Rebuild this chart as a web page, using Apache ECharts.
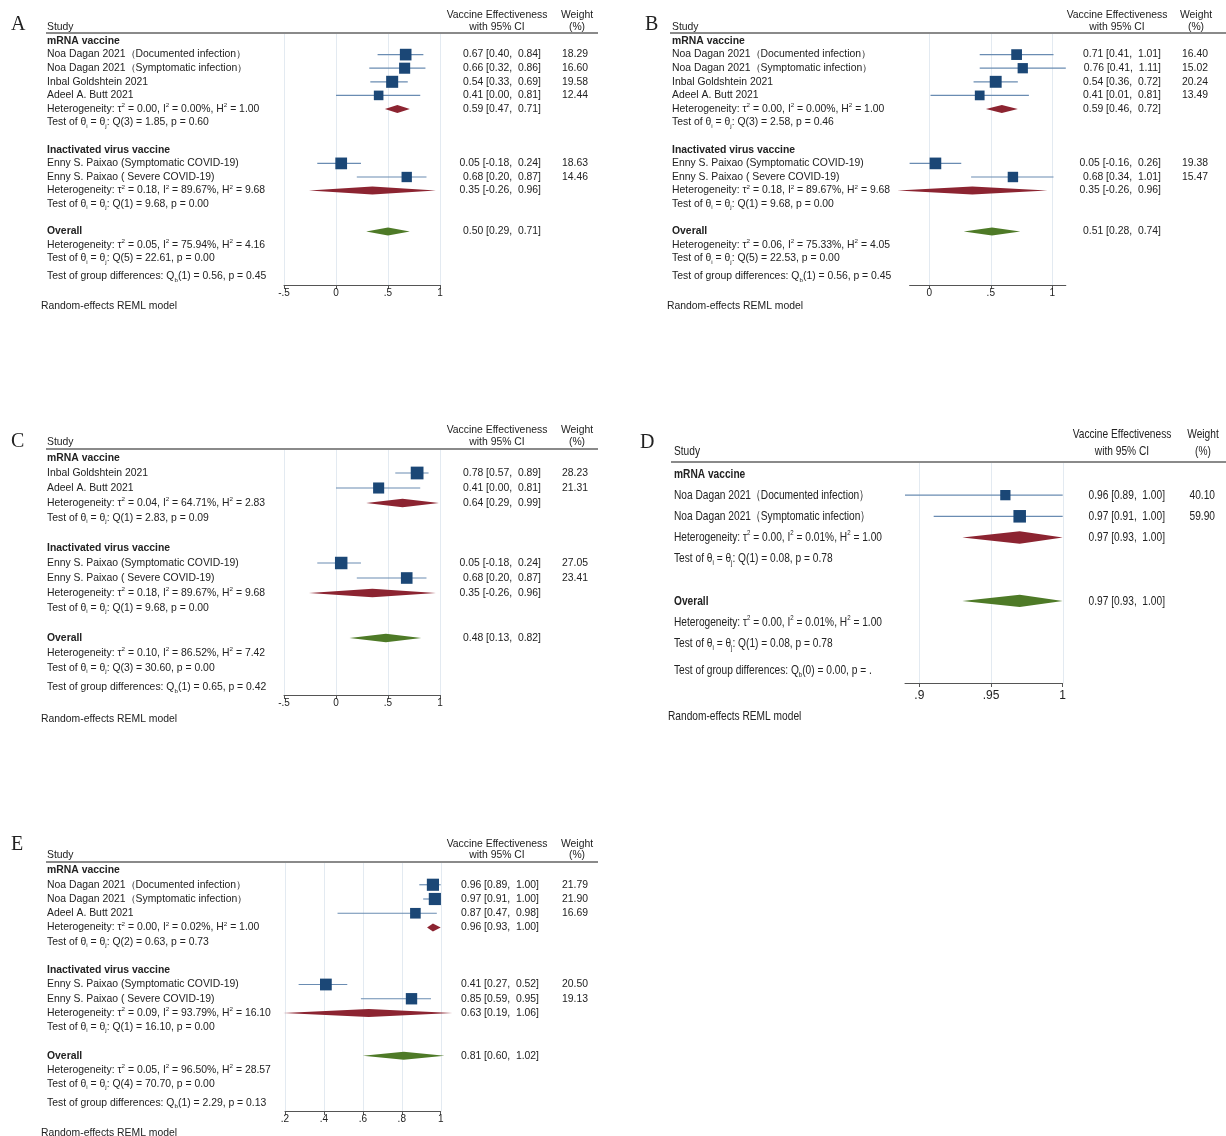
<!DOCTYPE html>
<html>
<head>
<meta charset="utf-8">
<script src="https://cdn.jsdelivr.net/npm/echarts@6/dist/echarts.min.js"></script>
<style>
  html, body { margin: 0; padding: 0; background: #fff; }
  #chart { width: 1226px; height: 1136px; }
</style>
</head>
<body>
<div id="chart"></div>
<script>
const GROUPS = ["mRNA vaccine", "Inactivated virus vaccine"];

// ---- panel A
const aNames = ["Noa Dagan 2021（Documented infection）", "Noa Dagan 2021（Symptomatic infection）", "Inbal Goldshtein 2021", "Adeel A. Butt 2021", "Enny S. Paixao (Symptomatic COVID-19)", "Enny S. Paixao ( Severe COVID-19)"];
const aGroup = [0, 0, 0, 0, 1, 1];
const aEst = [0.67, 0.66, 0.54, 0.41, 0.05, 0.68];
const aLow = [0.40, 0.32, 0.33, 0.00, -0.18, 0.20];
const aHigh = [0.84, 0.86, 0.69, 0.81, 0.24, 0.87];
const aWeight = [18.29, 16.60, 19.58, 12.44, 18.63, 14.46];
const aSub = [[0.59, 0.47, 0.71], [0.35, -0.26, 0.96]];
const aSubHet = [[0.00, 0.00, 1.00], [0.18, 89.67, 9.68]];
const aSubQ = [[3, 1.85, 0.60], [1, 9.68, 0.00]];
const aAll = [0.50, 0.29, 0.71];
const aAllHet = [0.05, 75.94, 4.16];
const aAllQ = [5, 22.61, 0.00];
const aQb = [1, 0.56, 0.45];
const aTicks = [-0.5, 0, 0.5, 1];

// ---- panel B
const bNames = aNames;
const bGroup = [0, 0, 0, 0, 1, 1];
const bEst = [0.71, 0.76, 0.54, 0.41, 0.05, 0.68];
const bLow = [0.41, 0.41, 0.36, 0.01, -0.16, 0.34];
const bHigh = [1.01, 1.11, 0.72, 0.81, 0.26, 1.01];
const bWeight = [16.40, 15.02, 20.24, 13.49, 19.38, 15.47];
const bSub = [[0.59, 0.46, 0.72], [0.35, -0.26, 0.96]];
const bSubHet = [[0.00, 0.00, 1.00], [0.18, 89.67, 9.68]];
const bSubQ = [[3, 2.58, 0.46], [1, 9.68, 0.00]];
const bAll = [0.51, 0.28, 0.74];
const bAllHet = [0.06, 75.33, 4.05];
const bAllQ = [5, 22.53, 0.00];
const bQb = [1, 0.56, 0.45];
const bTicks = [0, 0.5, 1];

// ---- panel C
const cNames = ["Inbal Goldshtein 2021", "Adeel A. Butt 2021", "Enny S. Paixao (Symptomatic COVID-19)", "Enny S. Paixao ( Severe COVID-19)"];
const cGroup = [0, 0, 1, 1];
const cEst = [0.78, 0.41, 0.05, 0.68];
const cLow = [0.57, 0.00, -0.18, 0.20];
const cHigh = [0.89, 0.81, 0.24, 0.87];
const cWeight = [28.23, 21.31, 27.05, 23.41];
const cSub = [[0.64, 0.29, 0.99], [0.35, -0.26, 0.96]];
const cSubHet = [[0.04, 64.71, 2.83], [0.18, 89.67, 9.68]];
const cSubQ = [[1, 2.83, 0.09], [1, 9.68, 0.00]];
const cAll = [0.48, 0.13, 0.82];
const cAllHet = [0.10, 86.52, 7.42];
const cAllQ = [3, 30.60, 0.00];
const cQb = [1, 0.65, 0.42];
const cTicks = [-0.5, 0, 0.5, 1];

// ---- panel D
const dNames = ["Noa Dagan 2021（Documented infection）", "Noa Dagan 2021（Symptomatic infection）"];
const dGroup = [0, 0];
const dEst = [0.96, 0.97];
const dLow = [0.89, 0.91];
const dHigh = [1.00, 1.00];
const dWeight = [40.10, 59.90];
const dSub = [[0.97, 0.93, 1.00]];
const dSubHet = [[0.00, 0.01, 1.00]];
const dSubQ = [[1, 0.08, 0.78]];
const dAll = [0.97, 0.93, 1.00];
const dAllHet = [0.00, 0.01, 1.00];
const dAllQ = [1, 0.08, 0.78];
const dQb = [0, 0.00, null];
const dTicks = [0.9, 0.95, 1];

// ---- panel E
const eNames = ["Noa Dagan 2021（Documented infection）", "Noa Dagan 2021（Symptomatic infection）", "Adeel A. Butt 2021", "Enny S. Paixao (Symptomatic COVID-19)", "Enny S. Paixao ( Severe COVID-19)"];
const eGroup = [0, 0, 0, 1, 1];
const eEst = [0.96, 0.97, 0.87, 0.41, 0.85];
const eLow = [0.89, 0.91, 0.47, 0.27, 0.59];
const eHigh = [1.00, 1.00, 0.98, 0.52, 0.95];
const eWeight = [21.79, 21.90, 16.69, 20.50, 19.13];
const eSub = [[0.96, 0.93, 1.00], [0.63, 0.19, 1.06]];
const eSubHet = [[0.00, 0.02, 1.00], [0.09, 93.79, 16.10]];
const eSubQ = [[2, 0.63, 0.73], [1, 16.10, 0.00]];
const eAll = [0.81, 0.60, 1.02];
const eAllHet = [0.05, 96.50, 28.57];
const eAllQ = [4, 70.70, 0.00];
const eQb = [1, 2.29, 0.13];
const eTicks = [0.2, 0.4, 0.6, 0.8, 1];

const SANS = "'Liberation Sans', Arial, sans-serif";
const SERIF = "'Liberation Serif', 'Times New Roman', serif";
const INK = "#222";
const SQUARE = "#1b4776";
const CI = "#6a8cb2";
const SUBCOL = "#8c2431";
const ALLCOL = "#4e7a27";
const GRIDCOL = "#e3eaf1";

const panels = [
  { id: "A", names: aNames, group: aGroup, est: aEst, low: aLow, high: aHigh, weight: aWeight,
    sub: aSub, subHet: aSubHet, subQ: aSubQ, all: aAll, allHet: aAllHet, allQ: aAllQ, qb: aQb, ticks: aTicks, range: [-0.5, 1],
    L: { letterX: 11, letterY: 25, textX: 47, ruleL: 46, ruleR: 598, ruleY: 33, veC: 497, wtC: 577, veR: 541, wtR: 588,
         plotL: 284, plotR: 440, row0: 41, rowH: 13.6, axisY: 285, modelX: 41, modelY: 306, k: 2.72, dh: 4, fs: 10.4, sx: 1, tickFs: 10, tickGap: 3 } },
  { id: "B", names: bNames, group: bGroup, est: bEst, low: bLow, high: bHigh, weight: bWeight,
    sub: bSub, subHet: bSubHet, subQ: bSubQ, all: bAll, allHet: bAllHet, allQ: bAllQ, qb: bQb, ticks: bTicks, range: [-0.16, 1.11],
    L: { letterX: 645, letterY: 25, textX: 672, ruleL: 670, ruleR: 1226, ruleY: 33, veC: 1117, wtC: 1196, veR: 1161, wtR: 1208,
         plotL: 909.6, plotR: 1065.8, row0: 41, rowH: 13.6, axisY: 285, modelX: 667, modelY: 306, k: 2.65, dh: 4, fs: 10.4, sx: 1, tickFs: 10, tickGap: 3 } },
  { id: "C", names: cNames, group: cGroup, est: cEst, low: cLow, high: cHigh, weight: cWeight,
    sub: cSub, subHet: cSubHet, subQ: cSubQ, all: cAll, allHet: cAllHet, allQ: cAllQ, qb: cQb, ticks: cTicks, range: [-0.5, 1],
    L: { letterX: 11, letterY: 442, textX: 47, ruleL: 46, ruleR: 598, ruleY: 449, veC: 497, wtC: 577, veR: 541, wtR: 588,
         plotL: 284, plotR: 440, row0: 458, rowH: 15, axisY: 695, modelX: 41, modelY: 719, k: 2.4, dh: 4.3, fs: 10.4, sx: 1, tickFs: 10, tickGap: 3 } },
  { id: "D", names: dNames, group: dGroup, est: dEst, low: dLow, high: dHigh, weight: dWeight,
    sub: dSub, subHet: dSubHet, subQ: dSubQ, all: dAll, allHet: dAllHet, allQ: dAllQ, qb: dQb, ticks: dTicks, range: [0.89, 1],
    L: { letterX: 640, letterY: 443, textX: 674, ruleL: 671, ruleR: 1226, ruleY: 462, veC: 1122, wtC: 1203, veR: 1165, wtR: 1215,
         plotL: 905, plotR: 1062.7, row0: 474, rowH: 21.15, axisY: 683, modelX: 668, modelY: 716, k: 1.62, dh: 6.2, fs: 13.4, sx: 0.76, tickFs: 12, tickGap: 7 } },
  { id: "E", names: eNames, group: eGroup, est: eEst, low: eLow, high: eHigh, weight: eWeight,
    sub: eSub, subHet: eSubHet, subQ: eSubQ, all: eAll, allHet: eAllHet, allQ: eAllQ, qb: eQb, ticks: eTicks, range: [0.2, 1],
    L: { letterX: 11, letterY: 845, textX: 47, ruleL: 46, ruleR: 598, ruleY: 862, veC: 497, wtC: 577, veR: 539, wtR: 588,
         plotL: 285, plotR: 440.7, row0: 870.5, rowH: 14.25, axisY: 1111, modelX: 41, modelY: 1133, k: 2.6, dh: 4, fs: 10.4, sx: 1, tickFs: 10, tickGap: 3 } },
];

const f2 = (v) => v.toFixed(2);
const ciText = (e, l, h) => `${f2(e)} [${f2(l)},  ${f2(h)}]`;
const hetText = (s) => `Heterogeneity: τ{sup|2} = ${f2(s[0])}, I{sup|2} = ${f2(s[1])}%, H{sup|2} = ${f2(s[2])}`;
const testText = (q) => `Test of θ{sub|i} = θ{sub|j}: Q(${q[0]}) = ${f2(q[1])}, p = ${f2(q[2])}`;
const qbText = (q) => `Test of group differences: Q{sub|b}(${q[0]}) = ${f2(q[1])}, p = ${q[2] == null ? "." : f2(q[2])}`;
const tickFmt = (v) => String(+(+v).toFixed(2)).replace(/^(-?)0\./, "$1.");

const grids = [], xAxes = [], yAxes = [], series = [], texts = [];

function txt(L, x, y, text, opt = {}) {
  const fs = opt.fs || L.fs;
  const family = opt.family || SANS;
  const base = { fontFamily: family, fill: INK };
  texts.push({
    type: "text", x, y, silent: true,
    scaleX: opt.sx != null ? opt.sx : L.sx,
    style: {
      legacy: false, text, fill: INK, fontFamily: family, fontSize: fs,
      fontWeight: opt.bold ? "bold" : "normal",
      align: opt.align || "left", verticalAlign: "middle",
      rich: {
        sup: Object.assign({}, base, { fontSize: fs * 0.6, verticalAlign: "top", lineHeight: fs * 1.25 }),
        sub: Object.assign({}, base, { fontSize: fs * 0.6, verticalAlign: "bottom", lineHeight: fs * 1.25 }),
      },
    },
  });
}

panels.forEach((P, pi) => {
  const L = P.L;
  const rowY = (r) => L.row0 + r * L.rowH;
  const yMin = (L.ruleY - L.row0) / L.rowH;
  const yMax = (L.axisY - L.row0) / L.rowH;

  grids.push({ left: L.plotL, top: L.ruleY, width: L.plotR - L.plotL, height: L.axisY - L.ruleY });
  xAxes.push({
    gridIndex: pi, type: "value", min: P.range[0], max: P.range[1],
    axisLine: { show: true, onZero: false, lineStyle: { color: "#555", width: 1 } },
    axisTick: { show: true, customValues: P.ticks, length: 4, lineStyle: { color: "#555" } },
    axisLabel: { customValues: P.ticks, formatter: tickFmt, color: INK, fontSize: L.tickFs, fontFamily: SANS, margin: L.tickGap },
    splitLine: { show: false },
  });
  yAxes.push({ gridIndex: pi, type: "value", inverse: true, min: yMin, max: yMax, show: false });

  // row layout
  let r = 0;
  const studyRow = [], subRow = [];
  const nGroups = P.sub.length;
  for (let g = 0; g < nGroups; g++) {
    txt(L, L.textX, rowY(r), GROUPS[g], { bold: true });
    r++;
    P.names.forEach((n, j) => {
      if (P.group[j] !== g) return;
      studyRow[j] = r;
      txt(L, L.textX, rowY(r), n);
      txt(L, L.veR, rowY(r), ciText(P.est[j], P.low[j], P.high[j]), { align: "right" });
      txt(L, L.wtR, rowY(r), f2(P.weight[j]), { align: "right" });
      r++;
    });
    subRow[g] = r;
    txt(L, L.textX, rowY(r), hetText(P.subHet[g]));
    txt(L, L.veR, rowY(r), ciText(...P.sub[g]), { align: "right" });
    r++;
    txt(L, L.textX, rowY(r), testText(P.subQ[g]));
    r += 2;
  }
  const allRow = r;
  txt(L, L.textX, rowY(r), "Overall", { bold: true });
  txt(L, L.veR, rowY(r), ciText(...P.all), { align: "right" });
  txt(L, L.textX, rowY(r + 1), hetText(P.allHet));
  txt(L, L.textX, rowY(r + 2), testText(P.allQ));
  txt(L, L.textX, rowY(r + 3.3), qbText(P.qb));

  // headers
  txt(L, L.letterX, L.letterY, P.id, { family: SERIF, fs: 20, sx: 1 });
  txt(L, L.textX, rowY(-1.05), "Study");
  txt(L, L.veC, rowY(-1.87), "Vaccine Effectiveness", { align: "center" });
  txt(L, L.veC, rowY(-1.05), "with 95% CI", { align: "center" });
  txt(L, L.wtC, rowY(-1.87), "Weight", { align: "center" });
  txt(L, L.wtC, rowY(-1.05), "(%)", { align: "center" });
  txt(L, L.modelX, L.modelY, "Random-effects REML model");
  texts.push({ type: "line", silent: true, shape: { x1: L.ruleL, y1: L.ruleY, x2: L.ruleR, y2: L.ruleY },
               style: { stroke: "#8a8a8a", lineWidth: 2 } });

  // vertical reference lines at ticks
  series.push({
    type: "custom", xAxisIndex: pi, yAxisIndex: pi, z: 1, silent: true,
    data: P.ticks.map((t) => [t, 0]),
    encode: { x: 0, y: 1 },
    renderItem: (params, api) => {
      const cs = params.coordSys;
      const x = Math.round(api.coord([api.value(0), 0])[0]) + 0.5;
      return { type: "line", shape: { x1: x, y1: cs.y + 1, x2: x, y2: cs.y + cs.height },
               style: { stroke: GRIDCOL, lineWidth: 1 } };
    },
  });

  // study CIs and weighted squares
  series.push({
    type: "custom", xAxisIndex: pi, yAxisIndex: pi, z: 3, silent: true,
    data: P.est.map((e, j) => [e, P.low[j], P.high[j], studyRow[j], P.weight[j]]),
    encode: { x: [0, 1, 2], y: 3 },
    renderItem: (params, api) => {
      const r0 = api.value(3);
      const pLo = api.coord([api.value(1), r0]);
      const pHi = api.coord([api.value(2), r0]);
      const pE = api.coord([api.value(0), r0]);
      const s = L.k * Math.sqrt(api.value(4));
      return { type: "group", children: [
        { type: "line", shape: { x1: pLo[0], y1: pLo[1], x2: pHi[0], y2: pHi[1] }, style: { stroke: CI, lineWidth: 1.2 } },
        { type: "rect", shape: { x: pE[0] - s / 2, y: pE[1] - s / 2, width: s, height: s }, style: { fill: SQUARE } },
      ] };
    },
  });

  // pooled diamonds
  const dia = P.sub.map((s, g) => [s[0], s[1], s[2], subRow[g], 0]);
  dia.push([P.all[0], P.all[1], P.all[2], allRow, 1]);
  series.push({
    type: "custom", xAxisIndex: pi, yAxisIndex: pi, z: 3, silent: true,
    data: dia,
    encode: { x: [0, 1, 2], y: 3 },
    renderItem: (params, api) => {
      const r0 = api.value(3);
      const pLo = api.coord([api.value(1), r0]);
      const pHi = api.coord([api.value(2), r0]);
      const pE = api.coord([api.value(0), r0]);
      return { type: "polygon",
               shape: { points: [[pLo[0], pLo[1]], [pE[0], pE[1] - L.dh], [pHi[0], pHi[1]], [pE[0], pE[1] + L.dh]] },
               style: { fill: api.value(4) ? ALLCOL : SUBCOL } };
    },
  });
});

const chart = echarts.init(document.getElementById("chart"), null, { renderer: "canvas" });
chart.setOption({
  animation: false,
  backgroundColor: "#fff",
  grid: grids,
  xAxis: xAxes,
  yAxis: yAxes,
  series,
  graphic: { elements: texts },
});
</script>
</body>
</html>
